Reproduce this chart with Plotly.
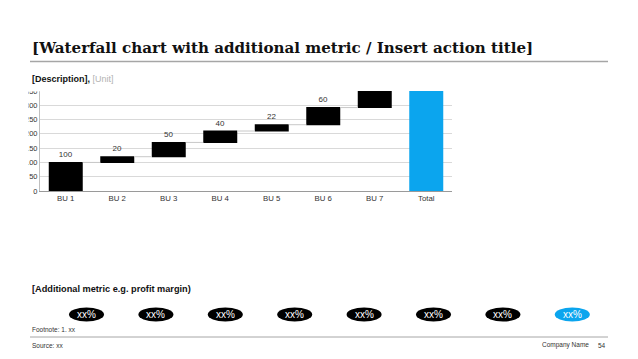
import plotly.graph_objects as go

W, H = 638, 359

categories = ["BU 1", "BU 2", "BU 3", "BU 4", "BU 5", "BU 6", "BU 7", "Total"]
values = [100, 20, 50, 40, 22, 60, 60, 0]
measures = ["relative"] * 7 + ["total"]
bar_labels = ["100", "20", "50", "40", "22", "60", "", ""]
y_ticks = [0, 50, 100, 150, 200, 250, 300, 350]
metric_labels = ["xx%"] * 8
metric_colors = ["#000000"] * 7 + ["#0BA5EE"]

BLACK = "#000000"
BLUE = "#0BA5EE"

def px(x):
    return x / W

def py(y):
    return 1 - y / H

fig = go.Figure()
fig.add_trace(go.Waterfall(
    x=categories, y=values, measure=measures,
    text=bar_labels, textposition="outside",
    textfont=dict(family="Liberation Sans", size=8, color="#333333"),
    increasing=dict(marker=dict(color=BLACK)),
    decreasing=dict(marker=dict(color=BLACK)),
    totals=dict(marker=dict(color=BLUE)),
    connector=dict(mode="between", line=dict(color="#c8c8c8", width=1)),
    cliponaxis=True,
    hoverinfo="skip",
))

shapes = []
annotations = []

# title
annotations.append(dict(x=px(30), y=py(48), xref="paper", yref="paper", xanchor="left", yanchor="middle",
                        text="<b>[Waterfall chart with additional metric / Insert action title]</b>",
                        showarrow=False, font=dict(family="DejaVu Serif", size=15.1, color="#111111")))
shapes.append(dict(type="line", xref="paper", yref="paper", x0=px(30), x1=px(608), y0=py(61.5), y1=py(61.5),
                   line=dict(color="#a6a6a6", width=1.5)))
annotations.append(dict(x=px(30), y=py(79), xref="paper", yref="paper", xanchor="left", yanchor="middle",
                        text="<b>[Description],</b> <span style='color:#b3b3b3'>[Unit]</span>",
                        showarrow=False, font=dict(family="Liberation Sans", size=9, color="#111111")))

# cover clipped tick labels
shapes.append(dict(type="rect", layer="above", xref="paper", yref="paper", x0=0, x1=px(28.5), y0=py(200), y1=py(84),
                   fillcolor="white", line=dict(width=0)))
shapes.append(dict(type="rect", layer="above", xref="paper", yref="paper", x0=0, x1=px(39.5), y0=py(91.5), y1=py(84),
                   fillcolor="white", line=dict(width=0)))

# additional metric
annotations.append(dict(x=px(30), y=py(289), xref="paper", yref="paper", xanchor="left", yanchor="middle",
                        text="<b>[Additional metric e.g. profit margin)</b>",
                        showarrow=False, font=dict(family="Liberation Sans", size=9.2, color="#111111")))
for i, (lab, col) in enumerate(zip(metric_labels, metric_colors)):
    cx = 86.5 + i * 69.4
    shapes.append(dict(type="circle", xref="paper", yref="paper", x0=px(cx - 17.5), x1=px(cx + 17.5),
                       y0=py(321.5), y1=py(307.5), fillcolor=col, line=dict(width=0)))
    annotations.append(dict(x=px(cx), y=py(314.5), xref="paper", yref="paper", xanchor="center", yanchor="middle",
                            text=lab, showarrow=False, font=dict(family="Liberation Sans", size=10, color="white")))

# footer
annotations.append(dict(x=px(30), y=py(329.5), xref="paper", yref="paper", xanchor="left", yanchor="middle",
                        text="Footnote: 1. xx", showarrow=False, font=dict(family="Liberation Sans", size=6.5, color="#333333")))
shapes.append(dict(type="line", xref="paper", yref="paper", x0=px(30), x1=px(608), y0=py(337), y1=py(337),
                   line=dict(color="#a6a6a6", width=1)))
annotations.append(dict(x=px(30), y=py(345), xref="paper", yref="paper", xanchor="left", yanchor="middle",
                        text="Source: xx", showarrow=False, font=dict(family="Liberation Sans", size=6.5, color="#333333")))
annotations.append(dict(x=px(591), y=py(345), xref="paper", yref="paper", xanchor="right", yanchor="middle",
                        text="Company Name", showarrow=False, font=dict(family="Liberation Sans", size=6.5, color="#333333")))
annotations.append(dict(x=px(608), y=py(345), xref="paper", yref="paper", xanchor="right", yanchor="middle",
                        text="54", showarrow=False, font=dict(family="Liberation Sans", size=6.5, color="#333333")))

fig.update_layout(
    width=W, height=H,
    margin=dict(l=0, r=0, t=0, b=0),
    paper_bgcolor="white", plot_bgcolor="white",
    showlegend=False,
    waterfallgap=0.34,
    shapes=shapes, annotations=annotations,
    xaxis=dict(domain=[px(40), px(452)], showgrid=False, showline=True, linecolor="#9a9a9a", linewidth=1,
               ticks="", tickfont=dict(family="Liberation Sans", size=7.8, color="#333333"), automargin=False,
               fixedrange=True),
    yaxis=dict(domain=[py(191), py(91)], range=[0, 350], tickvals=y_ticks, showgrid=True, gridcolor="#d9d9d9",
               gridwidth=1, showline=True, linecolor="#bfbfbf", linewidth=1, zeroline=False, ticks="",
               tickfont=dict(family="Liberation Sans", size=7.5, color="#333333"), automargin=False, fixedrange=True),
)

fig.write_html("out.html", config={"displayModeBar": False})
